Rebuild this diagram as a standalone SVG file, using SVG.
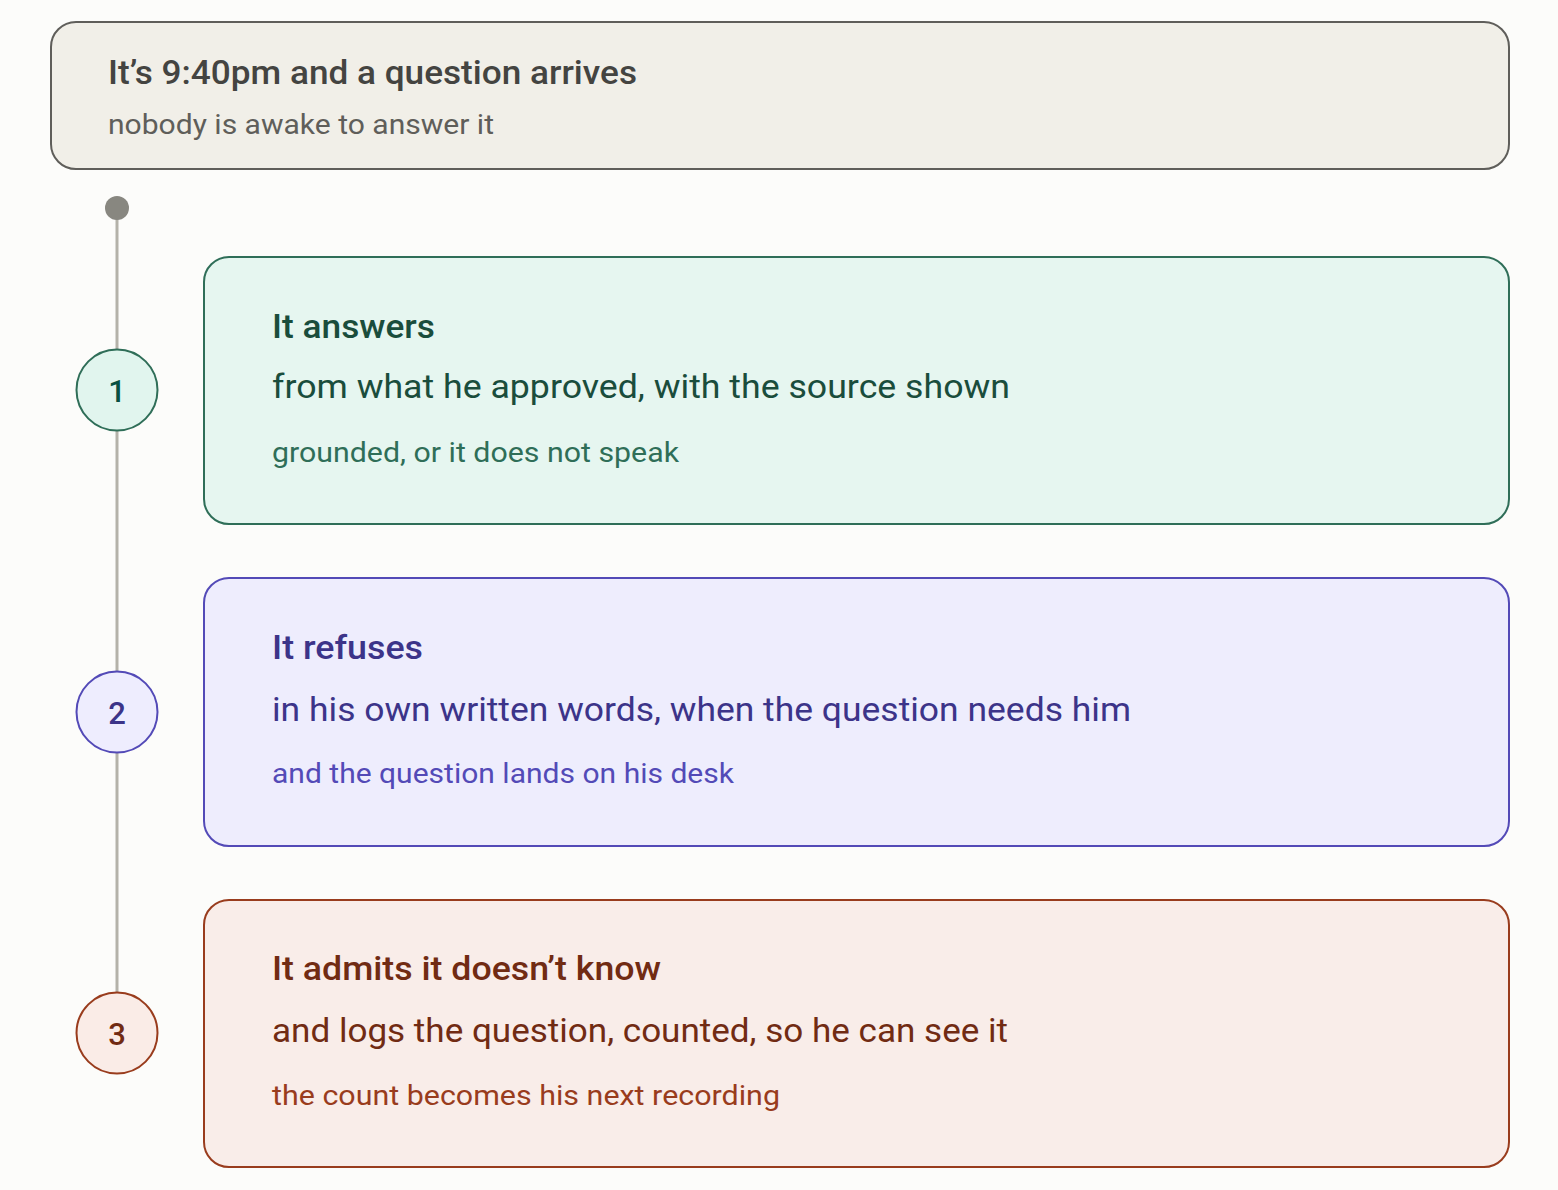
<svg xmlns="http://www.w3.org/2000/svg" width="1558" height="1190" viewBox="0 0 1558 1190">
<style>
text{font-family:Roboto,"Liberation Sans","Noto Sans",Arial,sans-serif}
.t{font-size:34px;font-weight:500}
.l2{font-size:33px}
.l3{font-size:28px}
.num{font-size:31px;font-weight:500;text-anchor:middle}
.box{stroke-width:2}
</style>
<rect x="0" y="0" width="1558" height="1190" fill="#fcfcfa"/>
<g id="connectors">
<line x1="117" y1="208" x2="117" y2="1074" stroke="#b4b2a9" stroke-width="3"/>
<circle cx="117" cy="208" r="12" fill="#888780"/>
</g>
<g id="start">
<rect class="box" x="51" y="22" width="1458" height="147" rx="25" fill="#f1efe8" stroke="#5f5e5a"/>
<text x="108" y="84" class="t" fill="#444441" textLength="529" lengthAdjust="spacingAndGlyphs">It’s 9:40pm and a question arrives</text>
<text x="108" y="134" font-size="28" fill="#5f5e5a" textLength="386" lengthAdjust="spacingAndGlyphs">nobody is awake to answer it</text>
</g>
<g id="step1">
<circle cx="117" cy="390" r="40.5" fill="#e1f5ee" stroke="#2f6e58" stroke-width="2"/>
<text x="117" y="402" class="num" fill="#085041">1</text>
<rect class="box" x="204" y="257" width="1305" height="267" rx="25" fill="#e6f6f0" stroke="#2f6e58"/>
<text x="272" y="338" class="t" fill="#1a4d3c" textLength="163" lengthAdjust="spacingAndGlyphs">It answers</text>
<text x="272" y="398" class="l2" fill="#1a4d3c" textLength="738" lengthAdjust="spacingAndGlyphs">from what he approved, with the source shown</text>
<text x="272" y="462" class="l3" fill="#2f6e58" textLength="407" lengthAdjust="spacingAndGlyphs">grounded, or it does not speak</text>
</g>
<g id="step2">
<circle cx="117" cy="712" r="40.5" fill="#eeedfe" stroke="#534ab7" stroke-width="2"/>
<text x="117" y="724" class="num" fill="#3c3489">2</text>
<rect class="box" x="204" y="578" width="1305" height="268" rx="25" fill="#eeedfd" stroke="#534ab7"/>
<text x="272" y="659" class="t" fill="#3c3489" textLength="151" lengthAdjust="spacingAndGlyphs">It refuses</text>
<text x="272" y="721" class="l2" fill="#3c3489" textLength="859" lengthAdjust="spacingAndGlyphs">in his own written words, when the question needs him</text>
<text x="272" y="783" class="l3" fill="#534ab7" textLength="462" lengthAdjust="spacingAndGlyphs">and the question lands on his desk</text>
</g>
<g id="step3">
<circle cx="117" cy="1033" r="40.5" fill="#faece7" stroke="#993c1d" stroke-width="2"/>
<text x="117" y="1045" class="num" fill="#712b13">3</text>
<rect class="box" x="204" y="900" width="1305" height="267" rx="25" fill="#f9ede9" stroke="#993c1d"/>
<text x="272" y="980" class="t" fill="#712b13" textLength="389" lengthAdjust="spacingAndGlyphs">It admits it doesn’t know</text>
<text x="272" y="1042" class="l2" fill="#712b13" textLength="736" lengthAdjust="spacingAndGlyphs">and logs the question, counted, so he can see it</text>
<text x="272" y="1105" class="l3" fill="#993c1d" textLength="508" lengthAdjust="spacingAndGlyphs">the count becomes his next recording</text>
</g>
</svg>
